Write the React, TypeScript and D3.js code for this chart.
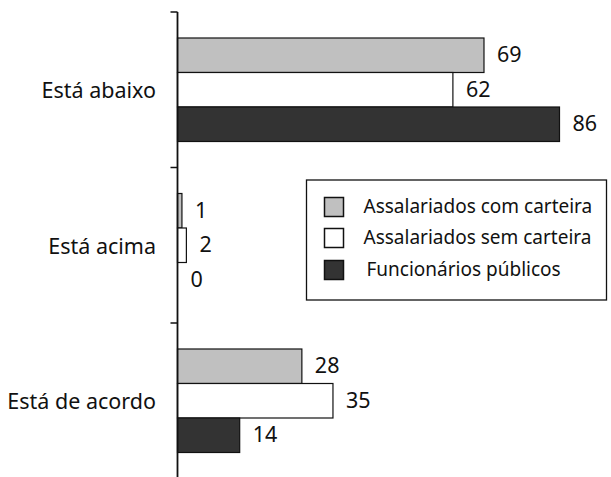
import React, { useEffect, useRef } from "react";
import * as d3 from "d3";

const categories = ["Está abaixo", "Está acima", "Está de acordo"];
const seriesNames = ["Assalariados com carteira", "Assalariados sem carteira", "Funcionários públicos"];
const comCarteira = [69, 1, 28];
const semCarteira = [62, 2, 35];
const funcionarios = [86, 0, 14];
const seriesColors = ["#c0c0c0", "#ffffff", "#333333"];

const W = 611;
const H = 477;
const FONT = "'Noto Sans', sans-serif";

export default function App() {
  const ref = useRef<SVGSVGElement>(null);
  useEffect(() => {
    const svg = d3.select(ref.current);
    svg.selectAll("*").remove();
    const seriesValues = [comCarteira, semCarteira, funcionarios];
    const x = d3.scaleLinear().domain([0, 86]).range([177.5, 559.5]);
    const y = d3.scaleBand<string>().domain(categories).range([12, 478.5]).paddingInner(0).paddingOuter(0);
    const inner = d3.scaleBand<number>().domain([0, 1, 2]).range([26, 129.5]).padding(0);

    const g = svg.append("g");
    categories.forEach((cat, ci) => {
      const gg = g.append("g").attr("transform", `translate(0,${y(cat)})`);
      seriesValues.forEach((vals, si) => {
        const v = vals[ci];
        gg.append("rect")
          .attr("x", x(0))
          .attr("y", inner(si)!)
          .attr("width", x(v) - x(0))
          .attr("height", inner.bandwidth())
          .attr("fill", seriesColors[si])
          .attr("stroke", "#111")
          .attr("stroke-width", 1.2);
        gg.append("text")
          .attr("x", x(v) + 13)
          .attr("y", inner(si)! + inner.bandwidth() / 2 - 1.5)
          .attr("dominant-baseline", "central")
          .attr("font-family", FONT)
          .attr("font-size", 21.5)
          .attr("fill", "#111")
          .text(String(v));
      });
      svg.append("text")
        .attr("x", 156)
        .attr("y", y(cat)! + y.bandwidth() / 2)
        .attr("dominant-baseline", "central")
        .attr("text-anchor", "end")
        .attr("font-family", FONT)
        .attr("font-size", 21.5)
        .attr("fill", "#111")
        .text(cat);
    });

    // axis
    svg.append("line")
      .attr("x1", x(0)).attr("x2", x(0))
      .attr("y1", 12).attr("y2", H)
      .attr("stroke", "#111").attr("stroke-width", 1.8);
    const tickPos = [...categories.map((c) => y(c)!), y(categories[categories.length - 1])! + y.bandwidth()];
    tickPos.forEach((t) => {
      svg.append("line")
        .attr("x1", x(0) - 7).attr("x2", x(0))
        .attr("y1", t).attr("y2", t)
        .attr("stroke", "#111").attr("stroke-width", 1.5);
    });

    // legend
    const lg = svg.append("g").attr("transform", "translate(306.5,180)");
    lg.append("rect").attr("width", 300).attr("height", 120)
      .attr("fill", "#fff").attr("stroke", "#111").attr("stroke-width", 1.3);
    const rowsY = [27, 58, 90];
    const textX = [57, 57, 60];
    seriesNames.forEach((name, i) => {
      lg.append("rect").attr("x", 18).attr("y", rowsY[i] - 9.5).attr("width", 19).attr("height", 19)
        .attr("fill", seriesColors[i]).attr("stroke", "#111").attr("stroke-width", 1.5);
      lg.append("text").attr("x", textX[i]).attr("y", rowsY[i] - 1)
        .attr("dominant-baseline", "central")
        .attr("font-family", FONT).attr("font-size", 19).attr("fill", "#111")
        .text(name);
    });
  }, []);
  return (
    <svg ref={ref} width={W} height={H} style={{ position: "absolute", left: 0, top: 0, display: "block", background: "#fff" }} />
  );
}
